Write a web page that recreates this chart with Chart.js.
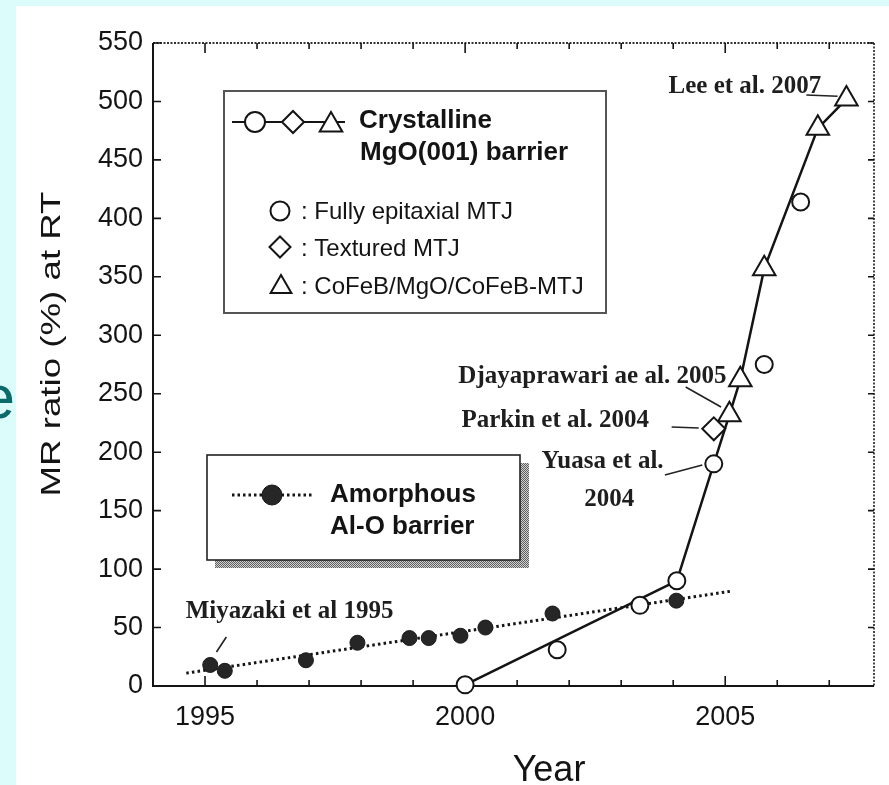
<!DOCTYPE html>
<html><head><meta charset="utf-8">
<script src="https://cdn.jsdelivr.net/npm/chart.js@4"></script>
<style>html,body{margin:0;padding:0;background:#dcfcfc;} canvas{display:block;}</style>
</head><body>
<canvas id="c" width="889" height="785"></canvas>
<script>
// ---- data ----
const amorphousYears = [1995.1, 1995.38, 1996.94, 1997.93, 1998.93, 1999.3, 1999.91, 2000.39, 2001.68, 2004.06];
const amorphousMR    = [18, 13, 22, 37, 41, 41, 43, 50, 62, 73];
const amorphousFitYears = [1994.64, 2005.1];
const amorphousFitMR    = [11, 81];
const epitaxialYears = [2000.0, 2001.77, 2003.36, 2004.07, 2004.78, 2005.75, 2006.45];
const epitaxialMR    = [1, 31, 69, 90, 190, 275, 414];
const texturedYears  = [2004.78];
const texturedMR     = [220];
const cofebYears     = [2005.08, 2005.29, 2005.75, 2006.78, 2007.33];
const cofebMR        = [232, 262, 357, 477, 502];
const mgoLineYears   = [2000.0, 2004.07, 2004.78, 2005.08, 2005.29, 2005.75, 2006.78, 2007.33];
const mgoLineMR      = [1, 90, 190, 232, 262, 357, 477, 502];
const xTickLabels = [1995, 2000, 2005];
const xMin = 1994, xMax = 2007.86, yMin = 0, yMax = 550, yStep = 50;
const annotations = [
  {text: 'Lee et al. 2007',          year: 2003.91, mr: 507.2, lead: [[2006.56, 505.5], [2007.16, 504.5]]},
  {text: 'Djayaprawari ae al. 2005', year: 1999.87, mr: 259.2, lead: [[2004.24, 255.8], [2004.92, 238.7]]},
  {text: 'Parkin et al. 2004',       year: 1999.93, mr: 221.5, lead: [[2003.97, 221.5], [2004.49, 220.7]]},
  {text: 'Yuasa et al.',             year: 2001.47, mr: 186.5, lead: [[2003.84, 180.5], [2004.56, 189.0]]},
  {text: '2004',                     year: 2002.29, mr: 154.0, lead: null},
  {text: 'Miyazaki et al 1995',      year: 1994.63, mr: 58.2,  lead: [[1995.41, 41.9], [1995.22, 29.1]]}
];

const pts = (xs, ys) => xs.map((x, i) => ({x: x, y: ys[i]}));
const INK = '#141414';
const SANS = '"Liberation Sans", Arial, sans-serif';
const SERIF = '"Liberation Serif", "Times New Roman", serif';

function drawPt(ctx, style, r, x, y, fill, lw) {
  ctx.save();
  ctx.fillStyle = fill; ctx.strokeStyle = INK; ctx.lineWidth = lw;
  Chart.helpers.drawPoint(ctx, {pointStyle: style, radius: r, borderWidth: lw, rotation: 0}, x, y);
  ctx.restore();
}

const decor = {
  id: 'decor',
  beforeDraw(chart) {
    const ctx = chart.ctx;
    ctx.save();
    ctx.fillStyle = '#dcfcfc';
    ctx.fillRect(0, 0, chart.width, chart.height);
    ctx.fillStyle = '#0b6a6a';
    ctx.font = '62px ' + SANS;
    ctx.textAlign = 'right';
    ctx.textBaseline = 'alphabetic';
    ctx.fillText('e', 15, 418);
    ctx.fillStyle = '#ffffff';
    ctx.fillRect(16, 6, chart.width - 16, chart.height - 6);
    ctx.restore();
  },
  beforeDatasetsDraw(chart) {
    const ctx = chart.ctx, a = chart.chartArea;
    const xs = chart.scales.x, ys = chart.scales.y;
    ctx.save();
    ctx.strokeStyle = INK;
    ctx.lineWidth = 2;
    ctx.beginPath();
    ctx.moveTo(a.left, a.top); ctx.lineTo(a.left, a.bottom); ctx.lineTo(a.right, a.bottom);
    ctx.stroke();
    ctx.setLineDash([2, 1.5]);
    ctx.lineWidth = 1.8;
    ctx.strokeStyle = '#333';
    ctx.beginPath();
    ctx.moveTo(a.left, a.top); ctx.lineTo(a.right, a.top); ctx.lineTo(a.right, a.bottom);
    ctx.stroke();
    ctx.setLineDash([]);
    ctx.strokeStyle = INK;
    ctx.lineWidth = 1.6;
    for (let yr = Math.ceil(xMin); yr <= xMax; yr++) {
      const px = xs.getPixelForValue(yr);
      const len = (yr % 5 === 0) ? 10 : 6;
      ctx.beginPath();
      ctx.moveTo(px, a.bottom); ctx.lineTo(px, a.bottom - len);
      ctx.moveTo(px, a.top); ctx.lineTo(px, a.top + len);
      ctx.stroke();
    }
    for (let v = yMin; v <= yMax; v += yStep) {
      const py = ys.getPixelForValue(v);
      ctx.beginPath();
      ctx.moveTo(a.left, py); ctx.lineTo(a.left + 8, py);
      ctx.moveTo(a.right, py); ctx.lineTo(a.right - 6, py);
      ctx.stroke();
    }
    ctx.restore();
  },
  afterDraw(chart) {
    const ctx = chart.ctx;
    const xs = chart.scales.x, ys = chart.scales.y;
    ctx.save();
    ctx.fillStyle = INK;
    ctx.font = '36px ' + SANS;
    ctx.textAlign = 'center';
    ctx.textBaseline = 'alphabetic';
    ctx.fillText('Year', 549, 781);
    ctx.save();
    ctx.font = '28px ' + SANS;
    const yt = 'MR ratio (%) at RT';
    const w = ctx.measureText(yt).width;
    ctx.translate(60, 344);
    ctx.rotate(-Math.PI / 2);
    ctx.scale(305 / w, 1);
    ctx.fillText(yt, 0, 0);
    ctx.restore();

    ctx.font = 'bold 25px ' + SERIF;
    ctx.textAlign = 'left';
    ctx.fillStyle = '#1e1e1e';
    ctx.strokeStyle = '#222';
    ctx.lineWidth = 1.6;
    annotations.forEach(an => {
      ctx.fillText(an.text, xs.getPixelForValue(an.year), ys.getPixelForValue(an.mr));
      if (an.lead) {
        ctx.beginPath();
        ctx.moveTo(xs.getPixelForValue(an.lead[0][0]), ys.getPixelForValue(an.lead[0][1]));
        ctx.lineTo(xs.getPixelForValue(an.lead[1][0]), ys.getPixelForValue(an.lead[1][1]));
        ctx.stroke();
      }
    });

    ctx.strokeStyle = '#555';
    ctx.lineWidth = 2;
    ctx.strokeRect(224, 91, 382, 222);
    ctx.strokeStyle = INK;
    ctx.lineWidth = 2;
    ctx.beginPath(); ctx.moveTo(232, 122); ctx.lineTo(345, 122); ctx.stroke();
    drawPt(ctx, 'circle', 10, 255, 122, '#fff', 2);
    drawPt(ctx, 'rectRot', 11, 293, 122, '#fff', 2);
    drawPt(ctx, 'triangle', 13, 331, 125, '#fff', 2);
    ctx.fillStyle = INK;
    ctx.font = 'bold 26px ' + SANS;
    ctx.fillText('Crystalline', 359, 128);
    ctx.fillText('MgO(001) barrier', 360, 160);
    ctx.font = '24px ' + SANS;
    drawPt(ctx, 'circle', 9.5, 280, 211, '#fff', 2);
    ctx.fillStyle = INK;
    ctx.fillText(': Fully epitaxial MTJ', 301, 219);
    drawPt(ctx, 'rectRot', 10.5, 280, 247, '#fff', 2);
    ctx.fillStyle = INK;
    ctx.fillText(': Textured MTJ', 301, 256);
    drawPt(ctx, 'triangle', 12, 281, 287, '#fff', 2);
    ctx.fillStyle = INK;
    ctx.fillText(': CoFeB/MgO/CoFeB-MTJ', 301, 294);

    const pc = document.createElement('canvas');
    pc.width = 2; pc.height = 2;
    const pctx = pc.getContext('2d');
    pctx.fillStyle = '#d0d0d0'; pctx.fillRect(0, 0, 2, 2);
    pctx.fillStyle = '#606060'; pctx.fillRect(0, 0, 1, 1); pctx.fillRect(1, 1, 1, 1);
    ctx.fillStyle = ctx.createPattern(pc, 'repeat');
    ctx.fillRect(215, 463, 314, 105);
    ctx.fillStyle = '#fff';
    ctx.fillRect(207, 455, 313, 105);
    ctx.strokeStyle = '#222';
    ctx.lineWidth = 1.6;
    ctx.strokeRect(207, 455, 313, 105);
    ctx.setLineDash([2.5, 3]);
    ctx.lineWidth = 3;
    ctx.strokeStyle = INK;
    ctx.beginPath(); ctx.moveTo(232, 495); ctx.lineTo(313, 495); ctx.stroke();
    ctx.setLineDash([]);
    drawPt(ctx, 'circle', 10, 272, 495, '#262626', 1);
    ctx.fillStyle = INK;
    ctx.font = 'bold 26px ' + SANS;
    ctx.fillText('Amorphous', 330, 502);
    ctx.fillText('Al-O barrier', 330, 534);
    ctx.restore();
  }
};

new Chart(document.getElementById('c'), {
  type: 'scatter',
  data: {
    datasets: [
      {label: 'Amorphous Al-O fit', type: 'line', data: pts(amorphousFitYears, amorphousFitMR),
       borderColor: INK, borderWidth: 3, borderDash: [2.5, 3.2], pointRadius: 0, fill: false, order: 10, clip: false},
      {label: 'Crystalline MgO(001) barrier', type: 'line', data: pts(mgoLineYears, mgoLineMR),
       borderColor: INK, borderWidth: 2.5, pointRadius: 0, fill: false, tension: 0, order: 9, clip: false},
      {label: 'Amorphous Al-O barrier', data: pts(amorphousYears, amorphousMR),
       pointStyle: 'circle', pointRadius: 7.5, backgroundColor: '#262626', borderColor: '#1a1a1a', borderWidth: 1, order: 2, clip: false},
      {label: 'Fully epitaxial MTJ', data: pts(epitaxialYears, epitaxialMR),
       pointStyle: 'circle', pointRadius: 8.5, backgroundColor: '#fff', borderColor: INK, borderWidth: 2, order: 1, clip: false},
      {label: 'Textured MTJ', data: pts(texturedYears, texturedMR),
       pointStyle: 'rectRot', pointRadius: 11.5, backgroundColor: '#fff', borderColor: INK, borderWidth: 2, order: 1, clip: false},
      {label: 'CoFeB/MgO/CoFeB-MTJ', data: pts(cofebYears, cofebMR),
       pointStyle: 'triangle', pointRadius: 13, backgroundColor: '#fff', borderColor: INK, borderWidth: 2, order: 1, clip: false}
    ]
  },
  options: {
    responsive: false,
    animation: false,
    devicePixelRatio: 1,
    layout: {padding: {left: 0, right: 9, top: 43, bottom: 0}},
    plugins: {legend: {display: false}, tooltip: {enabled: false}},
    scales: {
      x: {
        type: 'linear', min: xMin, max: xMax,
        grid: {display: false}, border: {display: false},
        ticks: {
          stepSize: 1, autoSkip: false, maxRotation: 0, minRotation: 0, padding: 7,
          color: INK, font: {family: SANS, size: 27},
          callback: v => xTickLabels.includes(v) ? String(v) : ''
        },
        afterFit: s => { s.height = 99; }
      },
      y: {
        type: 'linear', min: yMin, max: yMax,
        grid: {display: false}, border: {display: false},
        ticks: {stepSize: yStep, padding: 2, color: INK, font: {family: SANS, size: 27}},
        afterFit: s => { s.width = 153; }
      }
    }
  },
  plugins: [decor]
});
</script>
</body></html>
